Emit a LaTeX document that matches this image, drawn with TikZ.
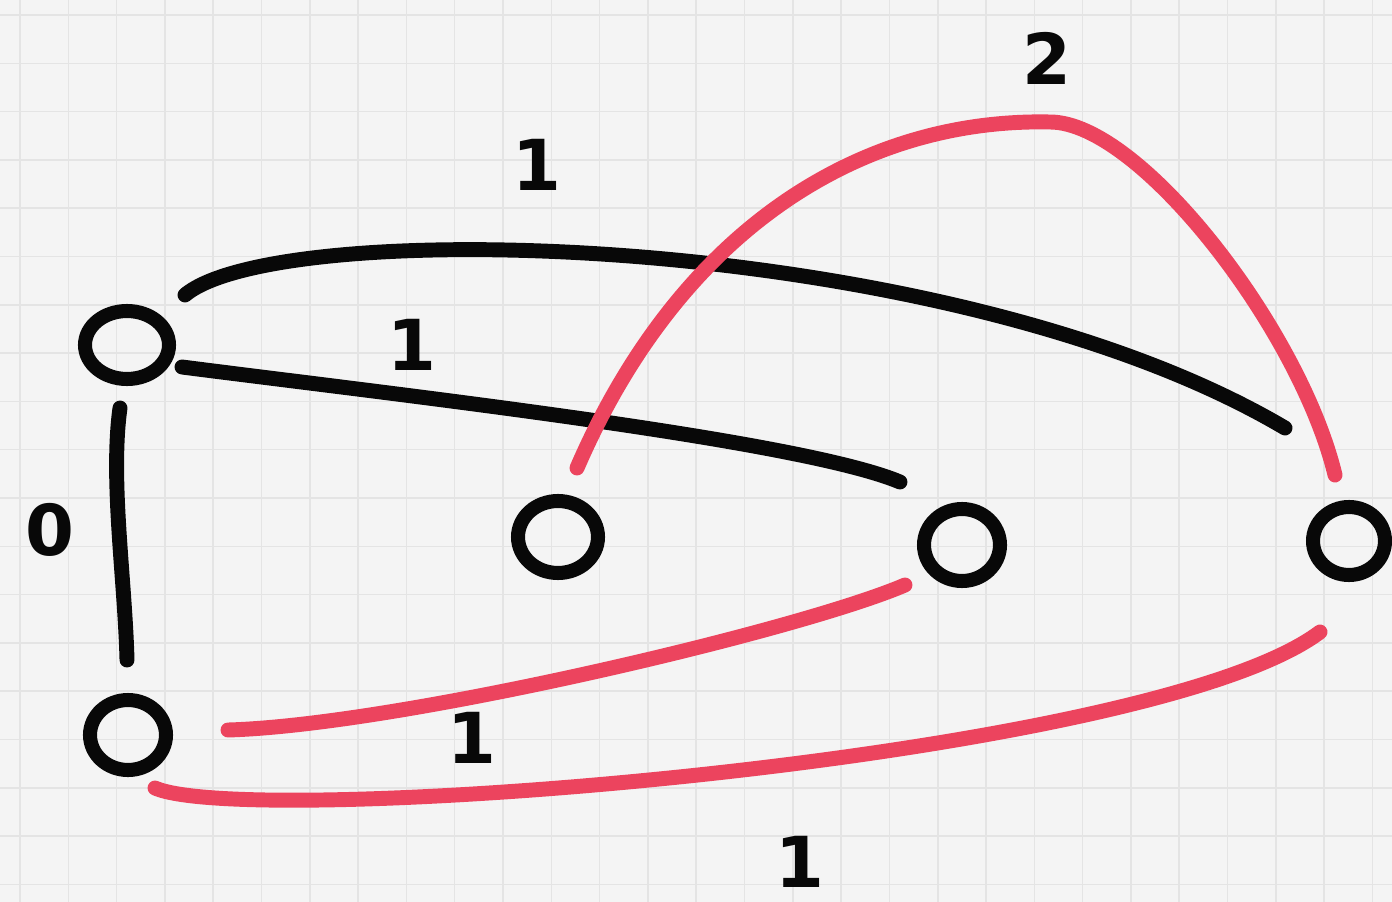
\documentclass[tikz,border=0pt]{standalone}
\usepackage{fontspec}
\setmainfont{DejaVu Sans}
\usetikzlibrary{shapes.geometric}
\definecolor{paper}{RGB}{244,244,244}
\definecolor{gridc}{RGB}{228,228,228}
\definecolor{ink}{RGB}{8,8,8}
\definecolor{redink}{RGB}{236,68,94}
\begin{document}
\begin{tikzpicture}[x=0.02cm,y=-0.02cm,
  vert/.style={ellipse,draw=ink,line width=8pt,inner sep=0pt},
  blackedge/.style={draw=ink,line width=8.5pt,line cap=round},
  rededge/.style={draw=redink,line width=8.5pt,line cap=round},
  lbl/.style={text=ink,font=\fontsize{40}{40}\selectfont\bfseries,inner sep=0pt}]
\useasboundingbox (0,0) rectangle (1392,902);
\fill[paper] (0,0) rectangle (1392,902);
\foreach \i in {0,...,28} {
  \draw[gridc,line width=0.9pt] ({20+48.3*\i},0) -- ({20+48.3*\i},902);
}
\foreach \j in {0,...,18} {
  \draw[gridc,line width=0.9pt] (0,{15+48.3*\j}) -- (1392,{15+48.3*\j});
}
% vertices
\node[vert,minimum width=1.68cm,minimum height=1.36cm] (v1) at (127,345) {};
\node[vert,minimum width=1.60cm,minimum height=1.44cm] (v2) at (558,537) {};
\node[vert,minimum width=1.52cm,minimum height=1.44cm] (v3) at (962,545) {};
\node[vert,minimum width=1.44cm,minimum height=1.36cm] (v4) at (1349,541) {};
\node[vert,minimum width=1.52cm,minimum height=1.40cm] (v5) at (128,735) {};
% edge ends
\coordinate (a1) at (185,295);
\coordinate (a4) at (1285,428);
\coordinate (b1) at (182,367);
\coordinate (b3) at (900,482);
\coordinate (c1) at (120,408);
\coordinate (c5) at (127,660);
\coordinate (d2) at (577,468);
\coordinate (dtop) at (1050,122);
\coordinate (d4) at (1335,475);
\coordinate (e5) at (228,730);
\coordinate (e3) at (905,585);
\coordinate (f5) at (155,788);
\coordinate (f4) at (1320,632);
% black edges
\draw[blackedge] (a1) .. controls (280,215) and (950,230) .. (a4);
\draw[blackedge] (b1) .. controls (400,395) and (800,440) .. (b3);
\draw[blackedge] (c1) .. controls (110,480) and (125,580) .. (c5);
% red edges
\draw[rededge] (d2) .. controls (680,230) and (860,118) .. (dtop)
  .. controls (1140,122) and (1300,330) .. (d4);
\draw[rededge] (e5) .. controls (400,725) and (800,630) .. (e3);
\draw[rededge] (f5) .. controls (250,830) and (1150,760) .. (f4);
% labels
\node[lbl] (l1) at (537,165) {1};
\node[lbl] (l2) at (412,345) {1};
\node[lbl] (l3) at (1047,58) {2};
\node[lbl] (l4) at (50,530) {0};
\node[lbl] (l5) at (472,738) {1};
\node[lbl] (l6) at (800,862) {1};
\end{tikzpicture}
\end{document}
